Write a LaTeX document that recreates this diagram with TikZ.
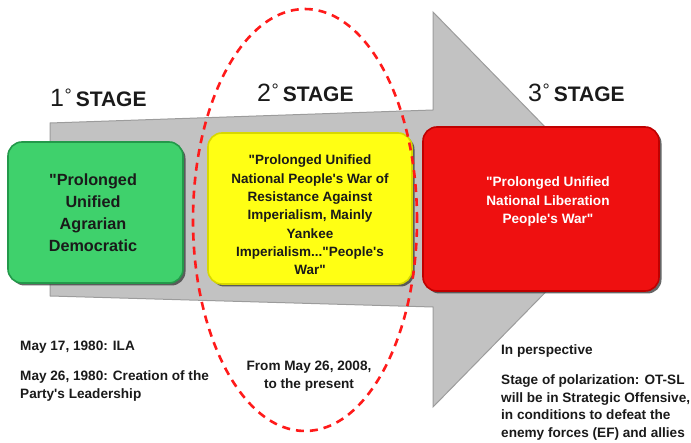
\documentclass[tikz,border=0pt]{standalone}
\usepackage{fontspec}
\setmainfont{Liberation Sans}[Ligatures=TeXOff]
\usetikzlibrary{shapes.geometric,shadows}
\definecolor{arrowgray}{HTML}{C2C2C2}
\definecolor{arrowedge}{HTML}{9C9C9C}
\definecolor{boxgreen}{HTML}{3FD16C}
\definecolor{edgegreen}{HTML}{23994A}
\definecolor{boxyellow}{HTML}{FFFF14}
\definecolor{edgeyellow}{HTML}{D8D800}
\definecolor{boxred}{HTML}{EF1010}
\definecolor{edgered}{HTML}{C00000}
\definecolor{ovalred}{HTML}{FF1A1A}
\definecolor{ink}{HTML}{1A1A1A}
\tikzset{
  stagebox/.style={rectangle, rounded corners=14pt, line width=1.6pt, inner sep=0pt,
    drop shadow={shadow xshift=2.5pt, shadow yshift=-2.5pt, fill=black!75, opacity=0.8}},
  stagelabel/.style={anchor=base west, inner sep=0pt, text=ink},
  boxtext/.style={align=center, inner sep=0pt, font=\bfseries},
  note/.style={align=left, inner sep=0pt, anchor=west, text=ink,
    font=\fontsize{13.6}{17.8}\selectfont\bfseries},
}
\newcommand{\stagetitle}[1]{{\fontsize{25}{25}\selectfont #1}\hspace{0.5pt}\raisebox{5pt}{\fontsize{18}{18}\selectfont °}\hspace{4pt}{\fontsize{21}{21}\selectfont\bfseries STAGE}}
\begin{document}
\begin{tikzpicture}[x=1pt,y=-1pt]
\useasboundingbox (0,0) rectangle (691,443);
% big arrow
\coordinate (s1) at (50,123);
\coordinate (s2) at (433,110);
\coordinate (h1) at (433,12);
\coordinate (tip) at (626,210);
\coordinate (h2) at (433,407);
\coordinate (s3) at (433,307);
\coordinate (s4) at (50,296);
\fill[arrowgray, draw=arrowedge, line width=1pt, line join=miter]
  (s1) -- (s2) -- (h1) -- (tip) -- (h2) -- (s3) -- (s4) -- cycle;
% stage labels
\node[stagelabel] (l1) at (50,107) {\stagetitle{1}};
\node[stagelabel] (l2) at (257,102) {\stagetitle{2}};
\node[stagelabel] (l3) at (528,102) {\stagetitle{3}};
% boxes
\node[stagebox, fill=boxgreen, draw=edgegreen, minimum width=175pt, minimum height=141pt] (gbox) at (95.5,212.5) {};
\node[stagebox, fill=boxyellow, draw=edgeyellow, minimum width=204pt, minimum height=151pt] (ybox) at (310,208.5) {};
\node[stagebox, fill=boxred, draw=edgered, minimum width=236pt, minimum height=164pt] (rbox) at (541,209) {};
% box texts
\node[boxtext, text=ink, font=\fontsize{16.2}{22}\selectfont\bfseries] (gtext) at (93,213)
  {"Prolonged\\Unified\\Agrarian\\Democratic};
\node[boxtext, text=ink, font=\fontsize{13.5}{18.3}\selectfont\bfseries] (ytext) at (310,215)
  {"Prolonged Unified\\National People's War of\\Resistance Against\\Imperialism, Mainly\\Yankee\\Imperialism..."People's\\War"};
\node[boxtext, text=white, font=\fontsize{13.6}{18.5}\selectfont\bfseries] (rtext) at (548,201.5)
  {"Prolonged Unified\\National Liberation\\People's War"};
% oval
\node[ellipse, draw=ovalred, line width=2.6pt, dash pattern=on 8pt off 6pt,
  minimum width=224pt, minimum height=422pt, inner sep=0pt] (oval) at (305,220) {};
% notes
\node[note] (n1) at (20,347) {May 17, 1980: ILA};
\node[note] (n2) at (20,386) {May 26, 1980: Creation of the\\Party's Leadership};
\node[note, align=center, anchor=center] (n3) at (309,376.5) {From May 26, 2008,\\to the present};
\node[note] (n4) at (501,351) {In perspective};
\node[note] (n5) at (501,407.5) {Stage of polarization: OT-SL\\will be in Strategic Offensive,\\in conditions to defeat the\\enemy forces (EF) and allies};
\end{tikzpicture}
\end{document}
